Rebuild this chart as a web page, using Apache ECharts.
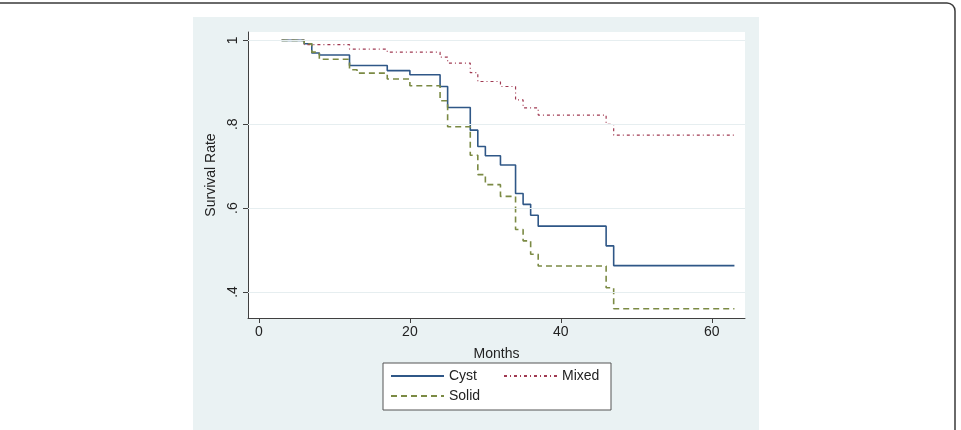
<!DOCTYPE html>
<html>
<head>
<meta charset="utf-8">
<script src="https://cdn.jsdelivr.net/npm/echarts@6/dist/echarts.min.js"></script>
<style>
  html, body { margin: 0; padding: 0; background: #fff; }
  #km_chart { width: 961px; height: 430px; }
</style>
</head>
<body>
<div id="km_chart"></div>
<script>
// Kaplan-Meier steps: month of each drop and survival after it
const cystMonths = [3, 6, 7, 8, 12, 17, 20, 24, 25, 28, 29, 30, 32, 34, 35, 36, 37, 46, 47, 63];
const cystSurv = [1, 0.992, 0.97, 0.965, 0.94, 0.928, 0.918, 0.89, 0.84, 0.786, 0.747, 0.725, 0.703, 0.635, 0.609, 0.583, 0.557, 0.51, 0.463, 0.463];

const solidMonths = [3, 6, 7, 8, 12, 13, 17, 20, 24, 25, 28, 29, 30, 32, 34, 35, 36, 37, 46, 47, 63];
const solidSurv = [1, 0.992, 0.972, 0.955, 0.93, 0.922, 0.908, 0.892, 0.856, 0.794, 0.726, 0.68, 0.656, 0.628, 0.549, 0.522, 0.49, 0.462, 0.41, 0.36, 0.36];

const mixedMonths = [3, 6, 12, 17, 24, 25, 28, 29, 32, 34, 35, 37, 46, 47, 63];
const mixedSurv = [1, 0.99, 0.979, 0.972, 0.96, 0.946, 0.923, 0.902, 0.89, 0.858, 0.839, 0.822, 0.8, 0.774, 0.774];

const xTicks = [0, 20, 40, 60];
const yTicks = [0.4, 0.6, 0.8, 1];
const yTickLabels = ['.4', '.6', '.8', '1'];

const FONT = '"Liberation Sans", Arial, sans-serif';

function pairs(xs, ys) {
    return xs.map((x, i) => [x, ys[i]]);
}

const chart = echarts.init(document.getElementById('km_chart'));
const legendBase = {
    padding: 0, z: 5,
    itemWidth: 53, itemHeight: 14,
    itemStyle: { opacity: 0 },   // keep only the line sample, no marker
    textStyle: { fontFamily: FONT, fontSize: 14, color: '#222' }
};
const option = {
    animation: false,
    graphic: [
        { // stata graph region
            type: 'rect', z: -10,
            shape: { x: 193, y: 17, width: 566, height: 420 },
            style: { fill: '#eaf2f3' }
        },
        { // outer frame of the figure, left and bottom pushed off the page
            type: 'rect', z: -9,
            shape: { x: -20, y: 3, width: 975, height: 500, r: 8 },
            style: { fill: 'transparent', stroke: '#3a3a3a', lineWidth: 1.5 }
        },
        { // legend box
            type: 'rect', z: 3,
            shape: { x: 383, y: 363, width: 228, height: 47 },
            style: { fill: '#fff', stroke: '#555', lineWidth: 1 }
        }
    ],
    grid: {
        left: 248, right: 216, top: 32, bottom: 112,
        show: true, backgroundColor: '#fff', borderWidth: 0
    },
    legend: [
        Object.assign({ data: ['Cyst', 'Mixed'], left: 390, top: 369, itemGap: 26 }, legendBase),
        Object.assign({ data: ['Solid'], left: 390, top: 389 }, legendBase)
    ],
    xAxis: {
        type: 'value', min: -1.45, max: 64.4,
        name: 'Months', nameLocation: 'middle', nameGap: 29,
        nameTextStyle: { fontFamily: FONT, fontSize: 14, color: '#222' },
        axisLine: { show: true, onZero: false, lineStyle: { color: '#404040', width: 1 } },
        axisTick: { show: true, length: 5, customValues: xTicks, lineStyle: { color: '#404040' } },
        axisLabel: { customValues: xTicks, margin: 7, fontFamily: FONT, fontSize: 14, color: '#222' },
        splitLine: { show: false }
    },
    yAxis: {
        type: 'value', min: 0.338, max: 1.02,
        name: 'Survival Rate', nameLocation: 'middle', nameGap: 28,
        nameTextStyle: { fontFamily: FONT, fontSize: 14, color: '#222' },
        axisLine: { show: true, onZero: false, lineStyle: { color: '#404040', width: 1 } },
        axisTick: { show: true, length: 5, customValues: yTicks, lineStyle: { color: '#404040' } },
        axisLabel: {
            customValues: yTicks, rotate: 90, margin: 8,
            fontFamily: FONT, fontSize: 14, color: '#222',
            formatter: function (v) {
                const i = yTicks.findIndex(t => Math.abs(t - v) < 1e-6);
                return i >= 0 ? yTickLabels[i] : '';
            }
        },
        splitLine: { show: false }
    },
    series: [
        { // horizontal grid lines at the y ticks
            name: 'grid', type: 'line', data: [], z: 1, silent: true,
            markLine: {
                silent: true, symbol: 'none', label: { show: false },
                lineStyle: { color: '#e6eef0', width: 1, type: 'solid' },
                data: yTicks.map(v => ({ yAxis: v }))
            }
        },
        {
            name: 'Cyst', type: 'line', step: 'end', z: 3,
            symbol: 'none', color: '#2f5787',
            lineStyle: { color: '#2f5787', width: 1.6, type: 'solid' },
            data: pairs(cystMonths, cystSurv)
        },
        {
            name: 'Mixed', type: 'line', step: 'end', z: 3,
            symbol: 'none', color: '#a03a52',
            lineStyle: { color: '#a03a52', width: 1.2, type: [3, 3, 1, 3] },
            data: pairs(mixedMonths, mixedSurv)
        },
        {
            name: 'Solid', type: 'line', step: 'end', z: 3,
            symbol: 'none', color: '#7b8a44',
            lineStyle: { color: '#7b8a44', width: 1.6, type: [6, 4] },
            data: pairs(solidMonths, solidSurv)
        }
    ]
};
chart.setOption(option);
window.addEventListener('resize', function () {
    chart.resize();
});
</script>
</body>
</html>
